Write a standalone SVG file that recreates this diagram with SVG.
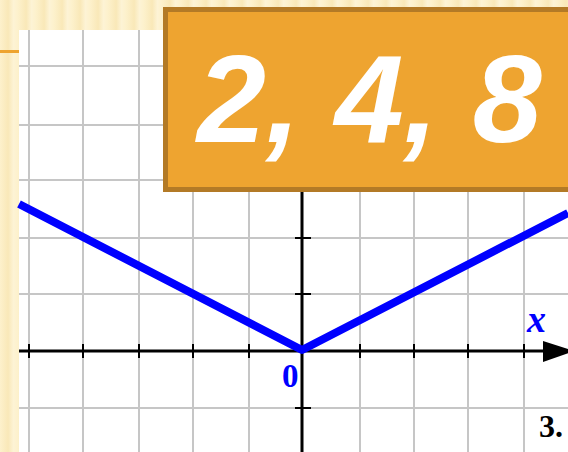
<svg xmlns="http://www.w3.org/2000/svg" width="568" height="452" viewBox="0 0 568 452">
<defs>
<linearGradient id="stripeGrad" x1="0" y1="0" x2="1" y2="0">
<stop offset="0" stop-color="#fdf1cc"/>
<stop offset="0.45" stop-color="#f9e8b8"/>
<stop offset="0.75" stop-color="#fdf3d5"/>
<stop offset="1" stop-color="#fdf1cc"/>
</linearGradient>
<pattern id="stripes" x="0" y="0" width="18" height="452" patternUnits="userSpaceOnUse">
<rect width="18" height="452" fill="url(#stripeGrad)"/>
</pattern>
<style>
.grid { stroke: #c6c6c6; stroke-width: 2; fill: none; }
.axis { stroke: #000; stroke-width: 3; fill: none; }
.tick { stroke: #000; stroke-width: 2; fill: none; }
.lbl { font-family: "Liberation Serif", "Times New Roman", serif; font-weight: bold; }
</style>
</defs>
<rect width="568" height="452" fill="url(#stripes)"/>
<rect x="0" y="50" width="19" height="3" fill="#eea430"/>
<rect x="19" y="30" width="549" height="422" fill="#ffffff"/>
<g id="grid" class="grid">
<path d="M29 30V452M83 30V452M139 30V452M193 30V452M249 30V452M360 30V452M414 30V452M468 30V452M524 30V452"/>
<path d="M19 66H568M19 125H568M19 180H568M19 238H568M19 294H568M19 408H568"/>
</g>
<g id="axes">
<line class="axis" x1="19" y1="351" x2="548" y2="351"/>
<polygon points="543,341 543,362 574,351" fill="#000"/>
<line class="axis" x1="302" y1="180" x2="302" y2="452"/>
<path class="tick" d="M29 344V358M83 344V358M139 344V358M193 344V358M249 344V358M360 344V358M414 344V358M468 344V358M524 344V358"/>
<path class="tick" d="M295 238H311M295 294H311M295 408H311"/>
</g>
<g id="graph">
<polyline points="19,204 302,350 568,213" fill="none" stroke="#0000ff" stroke-width="8" stroke-linejoin="round"/>
</g>
<g id="labels">
<text class="lbl" x="282" y="387" font-size="33" fill="#0000ff">0</text>
<text class="lbl" x="527" y="332" font-size="38" font-style="italic" fill="#0000ff">x</text>
<text class="lbl" x="539" y="437" font-size="32" fill="#000">3.</text>
</g>
<g id="title-box">
<rect x="165.5" y="9.5" width="410" height="180" fill="#eea430" stroke="#b37a26" stroke-width="5"/>
<text x="197" y="142" font-family="Liberation Sans, Arial, sans-serif" font-weight="bold" font-style="italic" font-size="124" fill="#ffffff">2, 4, 8</text>
</g>
</svg>
